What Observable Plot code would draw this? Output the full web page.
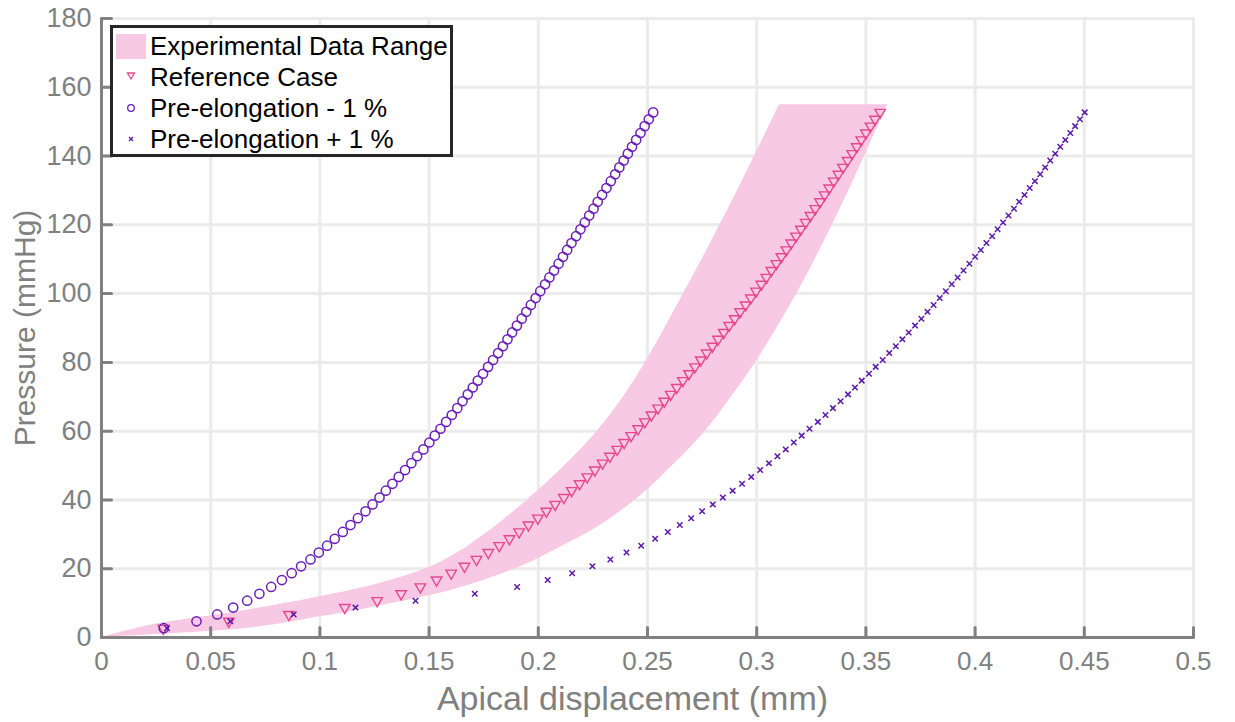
<!DOCTYPE html>
<html><head><meta charset="utf-8">
<script src="https://cdn.jsdelivr.net/npm/d3@7"></script>
<script src="https://cdn.jsdelivr.net/npm/@observablehq/plot@0.6"></script>
<style>
body{margin:0;background:#fff;}
#wrap{position:relative;width:1235px;height:722px;font-family:"Liberation Sans",Arial,Helvetica,sans-serif;}
#legend{position:absolute;left:110px;top:25px;width:337px;height:126px;border:3px solid #262626;background:#fff;}
.row{position:absolute;left:0;height:30px;width:337px;}
.row svg{position:absolute;left:0;top:0;}
.row span{position:absolute;left:37px;top:0;line-height:30px;font-size:26px;color:#000;white-space:nowrap;}
</style></head><body><div id="wrap"></div>
<script>
// Shared pressure steps (mmHg) of the three simulated series
const pressure = [2.7,4.7,6.7,8.7,10.7,12.7,14.7,16.7,18.7,20.7,22.7,24.7,26.7,28.7,30.7,32.7,34.7,36.7,38.7,40.7,
  42.7,44.7,46.7,48.7,50.7,52.7,54.7,56.7,58.7,60.7,62.7,64.7,66.7,68.7,70.7,72.7,74.7,76.7,78.7,80.7,
  82.7,84.7,86.7,88.7,90.7,92.7,94.7,96.7,98.7,100.7,102.7,104.7,106.7,108.7,110.7,112.7,114.7,116.7,118.7,120.7,
  122.7,124.7,126.7,128.7,130.7,132.7,134.7,136.7,138.7,140.7,142.7,144.7,146.7,148.7,150.7,152.7];
// Reference Case apical displacement (mm)
const refX = [0.0283,0.0583,0.0858,0.1114,0.1262,0.1372,0.1460,0.1534,0.1601,0.1662,
  0.1717,0.1771,0.1821,0.1868,0.1912,0.1955,0.1998,0.2037,0.2077,0.2117,
  0.2153,0.2189,0.2224,0.2259,0.2294,0.2328,0.2361,0.2393,0.2425,0.2457,
  0.2488,0.2518,0.2548,0.2577,0.2606,0.2634,0.2662,0.2690,0.2717,0.2744,
  0.2771,0.2797,0.2823,0.2849,0.2874,0.2899,0.2924,0.2949,0.2973,0.2997,
  0.3021,0.3044,0.3067,0.3090,0.3113,0.3136,0.3158,0.3180,0.3202,0.3224,
  0.3246,0.3268,0.3290,0.3311,0.3332,0.3353,0.3374,0.3395,0.3416,0.3437,
  0.3458,0.3479,0.3500,0.3521,0.3542,0.3565];
// Pre-elongation - 1 %
const minusX = [0.0285,0.0435,0.0530,0.0603,0.0667,0.0723,0.0777,0.0826,0.0871,0.0914,
  0.0957,0.0995,0.1033,0.1068,0.1105,0.1140,0.1174,0.1209,0.1241,0.1273,
  0.1302,0.1332,0.1361,0.1390,0.1419,0.1445,0.1474,0.1501,0.1526,0.1552,
  0.1578,0.1604,0.1629,0.1653,0.1677,0.1700,0.1723,0.1747,0.1770,0.1793,
  0.1816,0.1838,0.1859,0.1880,0.1902,0.1924,0.1945,0.1966,0.1988,0.2009,
  0.2031,0.2051,0.2072,0.2093,0.2113,0.2132,0.2152,0.2173,0.2193,0.2213,
  0.2233,0.2253,0.2272,0.2292,0.2312,0.2332,0.2352,0.2371,0.2391,0.2410,
  0.2429,0.2448,0.2468,0.2487,0.2506,0.2526];
// Pre-elongation + 1 %
const plusX = [0.0300,0.0590,0.0880,0.1163,0.1438,0.1709,0.1903,0.2043,0.2155,0.2248,
  0.2330,0.2404,0.2471,0.2535,0.2593,0.2648,0.2700,0.2750,0.2799,0.2845,
  0.2890,0.2933,0.2975,0.3016,0.3056,0.3095,0.3133,0.3170,0.3206,0.3242,
  0.3280,0.3315,0.3349,0.3384,0.3418,0.3450,0.3481,0.3514,0.3545,0.3577,
  0.3607,0.3637,0.3667,0.3696,0.3725,0.3754,0.3782,0.3810,0.3838,0.3866,
  0.3893,0.3920,0.3947,0.3974,0.4000,0.4026,0.4052,0.4078,0.4103,0.4128,
  0.4153,0.4178,0.4202,0.4226,0.4250,0.4274,0.4298,0.4321,0.4344,0.4367,
  0.4390,0.4413,0.4436,0.4458,0.4480,0.4502];
// Experimental data range (band): pressure and left/right displacement bounds
const bandP     = [0, 2, 4, 6, 8, 10, 12, 15, 17.5, 20, 22.5, 25, 30, 40, 50, 60, 70, 80, 90, 100, 110, 120, 130, 140, 154.9];
const bandLeft  = [0, 0.012, 0.026, 0.047, 0.067, 0.085, 0.101, 0.123, 0.137, 0.1485, 0.157, 0.164, 0.1755, 0.195, 0.2122, 0.2270, 0.2390, 0.2490, 0.2580, 0.2665, 0.2750, 0.2832, 0.2912, 0.2990, 0.3104];
const bandRight = [0, 0.055, 0.082, 0.100, 0.118, 0.134, 0.149, 0.167, 0.179, 0.1895, 0.1985, 0.2062, 0.2215, 0.2445, 0.2615, 0.2765, 0.2885, 0.2995, 0.3093, 0.3184, 0.3268, 0.3347, 0.3422, 0.3494, 0.360];

const xTicks = [0,0.05,0.1,0.15,0.2,0.25,0.3,0.35,0.4,0.45,0.5];
const xTickLabels = ["0","0.05","0.1","0.15","0.2","0.25","0.3","0.35","0.4","0.45","0.5"];
const yTicks = [0,20,40,60,80,100,120,140,160,180];
const yTickLabels = ["0","20","40","60","80","100","120","140","160","180"];
const seriesNames = ["Experimental Data Range","Reference Case","Pre-elongation - 1 %","Pre-elongation + 1 %"];
const xLabel = "Apical displacement (mm)";
const yLabel = "Pressure (mmHg)";

const fam = '"Liberation Sans", Arial, Helvetica, sans-serif';
const gray = "#808080";
const gridColor = "#ebebeb";
const bandColor = "#f7c9e4";
const refColor = "#e4488f";
const minusColor = "#6a1fb8";
const plusColor = "#5c1aa8";

const rows = pressure.map((p, i) => ({p, ref: refX[i], minus: minusX[i], plus: plusX[i]}));
const band = bandP.map((p, i) => ({p, x1: bandLeft[i], x2: bandRight[i]}));
const tickShape = {draw(context, l) { context.moveTo(0, 0); context.lineTo(0, -l); }};

const chart = Plot.plot({
  width: 1235, height: 722,
  marginLeft: 101, marginRight: 42, marginTop: 18, marginBottom: 85,
  x: {domain: [0, 0.5]},
  y: {domain: [0, 180]},
  style: {fontFamily: fam, background: "white", overflow: "visible"},
  marks: [
    Plot.gridX(xTicks, {stroke: gridColor, strokeOpacity: 1, strokeWidth: 3}),
    Plot.gridY(yTicks, {stroke: gridColor, strokeOpacity: 1, strokeWidth: 3}),
    Plot.areaX(band, {y: "p", x1: "x1", x2: "x2", fill: bandColor, curve: "monotone-y"}),
    Plot.dot(rows, {x: "ref", y: "p", symbol: "triangle", rotate: 180, r: 3.9, stroke: refColor, strokeWidth: 1.4, fill: "none"}),
    Plot.dot(rows, {x: "minus", y: "p", symbol: "circle", r: 4.6, stroke: minusColor, strokeWidth: 1.5, fill: "none"}),
    Plot.dot(rows, {x: "plus", y: "p", symbol: "times", r: 2.6, stroke: plusColor, strokeWidth: 1.5}),
    Plot.ruleX([0], {stroke: gray, strokeWidth: 3}),
    Plot.ruleY([0], {stroke: gray, strokeWidth: 3}),
    Plot.vector(xTicks, {x: d => d, y: 0, length: 10, rotate: 0, anchor: "start", shape: tickShape, stroke: gray, strokeWidth: 3}),
    Plot.vector(yTicks, {x: 0, y: d => d, length: 10, rotate: 90, anchor: "start", shape: tickShape, stroke: gray, strokeWidth: 3}),
    Plot.axisX(xTicks, {tickSize: 0, tickPadding: 14, tickFormat: d => xTickLabels[xTicks.indexOf(d)], fontSize: 26, color: gray, label: null}),
    Plot.axisY(yTicks, {tickSize: 0, tickPadding: 10, tickFormat: d => yTickLabels[yTicks.indexOf(d)], fontSize: 27, color: gray, label: null}),
    Plot.text([xLabel], {frameAnchor: "bottom", lineAnchor: "middle", textAnchor: "middle", dy: 62, dx: -15, fontSize: 34, fill: gray}),
    Plot.text([yLabel], {frameAnchor: "left", lineAnchor: "middle", textAnchor: "middle", dx: -76, rotate: -90, fontSize: 30, fill: gray})
  ]
});

const wrap = document.getElementById("wrap");
wrap.appendChild(chart);

// Legend inside the axes (upper left)
const legend = document.createElement("div");
legend.id = "legend";
const markerSvgs = [
  `<svg width="34" height="30"><rect x="3" y="3" width="30" height="25" fill="${bandColor}"/></svg>`,
  `<svg width="34" height="30"><path d="M14.5,11 L21.5,11 L18,17 Z" fill="none" stroke="${refColor}" stroke-width="1.3"/></svg>`,
  `<svg width="34" height="30"><circle cx="18" cy="15" r="3.3" fill="none" stroke="${minusColor}" stroke-width="1.3"/></svg>`,
  `<svg width="34" height="30"><path d="M16,13 L20,17 M16,17 L20,13" stroke="${plusColor}" stroke-width="1.3"/></svg>`
];
const rowTops = [3, 34, 65, 96];
seriesNames.forEach((name, i) => {
  const r = document.createElement("div");
  r.className = "row";
  r.style.top = rowTops[i] + "px";
  r.innerHTML = markerSvgs[i] + `<span>${name}</span>`;
  legend.appendChild(r);
});
wrap.appendChild(legend);
</script>
</body></html>
